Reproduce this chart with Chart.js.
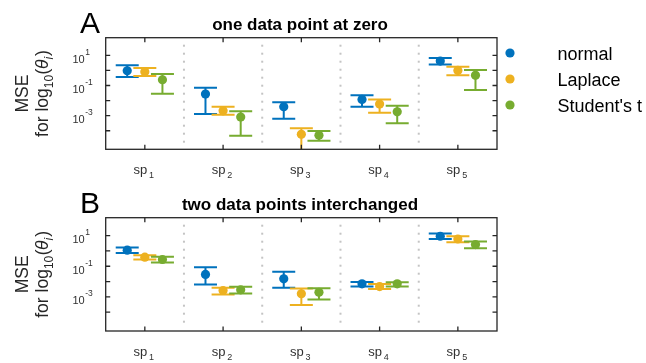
<!DOCTYPE html>
<html>
<head>
<meta charset="utf-8">
<script src="https://cdn.jsdelivr.net/npm/chart.js@4.4.1/dist/chart.umd.min.js"></script>
<style>
  html, body { margin: 0; padding: 0; background: #ffffff; }
  #wrap { position: relative; width: 646px; height: 363px; overflow: hidden; }
  .panel { position: absolute; left: 0; width: 646px; }
  #panelA { top: 0; height: 180px; }
  #panelB { top: 180px; height: 183px; }
</style>
</head>
<body>
<div id="wrap">
  <div class="panel" id="panelA"><canvas id="chartA"></canvas></div>
  <div class="panel" id="panelB"><canvas id="chartB"></canvas></div>
</div>
<script>
// ---- data ----------------------------------------------------------------
const categories  = ['sp_1', 'sp_2', 'sp_3', 'sp_4', 'sp_5'];
const seriesNames = ['normal', 'Laplace', "Student's t"];
const yTickPowers  = [-4, -3, -2, -1, 0, 1];
const yLabelPowers = [1, -1, -3];

// A: one data point at zero (mean MSE with lower / upper error limits)
const zeroNormal    = [0.95, 0.027, 0.0039, 0.012, 4.2];
const zeroNormalLo  = [0.36, 0.0013, 0.00063, 0.0039, 2.5];
const zeroNormalHi  = [2.2, 0.071, 0.0079, 0.023, 6.6];
const zeroLaplace   = [0.82, 0.0021, 0.000058, 0.0059, 1.0];
const zeroLaplaceLo = [0.43, 0.00115, 0.000001, 0.00155, 0.47];
const zeroLaplaceHi = [1.44, 0.0039, 0.000145, 0.012, 1.74];
const zeroStudent   = [0.24, 0.00081, 0.000051, 0.0018, 0.47];
const zeroStudentLo = [0.028, 0.000047, 0.000022, 0.00032, 0.05];
const zeroStudentHi = [0.575, 0.00195, 0.000095, 0.0046, 1.07];

// B: two data points interchanged
const swapNormal    = [1.12, 0.029, 0.015, 0.0071, 9.1];
const swapNormalLo  = [0.74, 0.0065, 0.0039, 0.0047, 5.9];
const swapNormalHi  = [1.66, 0.087, 0.043, 0.0095, 13.5];
const swapLaplace   = [0.39, 0.0026, 0.0016, 0.0047, 6.0];
const swapLaplaceLo = [0.275, 0.0014, 0.00029, 0.0033, 3.7];
const swapLaplaceHi = [0.525, 0.0039, 0.0035, 0.0068, 9.1];
const swapStudent   = [0.275, 0.0029, 0.002, 0.0071, 2.6];
const swapStudentLo = [0.174, 0.00166, 0.00068, 0.0047, 1.5];
const swapStudentHi = [0.41, 0.0045, 0.0037, 0.0091, 4.1];

// ---- styling ---------------------------------------------------------------
const FONT    = '"Liberation Sans", Arial, Helvetica, sans-serif';
const AXIS    = '#262626';
const TICKTXT = '#303030';
const COLORS  = ['#0072BD', '#EDB120', '#77AC30'];
const OFFSETS = [-0.225, 0, 0.225];
const CAP     = 11.5;   // half width of error bar caps, px
const Y_MIN   = Math.pow(10, -5.23);
const Y_MAX   = Math.pow(10, 2.17);

// draw a run of text pieces (for sub/superscripts); parts: {t, size, dy, italic, bold}
function drawRun(ctx, parts, x, y, align) {
  const widths = parts.map(p => {
    ctx.font = (p.italic ? 'italic ' : '') + (p.bold ? 'bold ' : '') + p.size + 'px ' + FONT;
    return ctx.measureText(p.t).width + (p.gap || 0);
  });
  const total = widths.reduce((a, b) => a + b, 0);
  let cx = align === 'center' ? x - total / 2 : (align === 'right' ? x - total : x);
  ctx.textAlign = 'left';
  ctx.textBaseline = 'alphabetic';
  parts.forEach((p, i) => {
    ctx.font = (p.italic ? 'italic ' : '') + (p.bold ? 'bold ' : '') + p.size + 'px ' + FONT;
    ctx.fillText(p.t, cx + (p.pre || 0), y + (p.dy || 0));
    cx += widths[i];
  });
}

// vertical error bars, drawn just before each series' markers
const errorBars = {
  id: 'errorBars',
  beforeDatasetDraw(chart, args) {
    const ds = chart.data.datasets[args.index];
    const { ctx, chartArea: a, scales: { x, y } } = chart;
    ctx.save();
    ctx.beginPath();
    ctx.rect(a.left, a.top, a.right - a.left, a.bottom - a.top);
    ctx.clip();
    ctx.strokeStyle = ds.borderColor;
    ctx.lineWidth = 2;
    ctx.lineCap = 'butt';
    ds.data.forEach((p, i) => {
      const px = x.getPixelForValue(p.x);
      const yl = y.getPixelForValue(ds.errLow[i]);
      const yh = y.getPixelForValue(ds.errHigh[i]);
      ctx.beginPath();
      ctx.moveTo(px, yl); ctx.lineTo(px, yh);
      ctx.moveTo(px - CAP, yl); ctx.lineTo(px + CAP, yl);
      ctx.moveTo(px - CAP, yh); ctx.lineTo(px + CAP, yh);
      ctx.stroke();
    });
    ctx.restore();
  }
};

// axes box, ticks, labels, title, panel letter and (optionally) legend
function makeFrame(cfg) {
  return {
    id: 'frame',
    beforeDatasetsDraw(chart) {
      const { ctx, chartArea: a, scales: { x } } = chart;
      ctx.save();
      ctx.fillStyle = '#c4c4c4';
      for (let k = 1; k < categories.length; k++) {
        const sx = x.getPixelForValue(k + 0.5);
        for (let yy = a.top + 8; yy < a.bottom - 4; yy += 8) {
          ctx.fillRect(sx - 1, yy - 1, 2, 2);
        }
      }
      ctx.restore();
    },
    afterDraw(chart) {
      const { ctx, chartArea: a, scales: { x, y } } = chart;
      ctx.save();
      // box
      ctx.strokeStyle = AXIS;
      ctx.lineWidth = 1.3;
      ctx.strokeRect(a.left, a.top, a.right - a.left, a.bottom - a.top);
      // ticks pointing inward
      ctx.beginPath();
      yTickPowers.forEach(p => {
        const ty = y.getPixelForValue(Math.pow(10, p));
        ctx.moveTo(a.left, ty); ctx.lineTo(a.left + 4.5, ty);
        ctx.moveTo(a.right, ty); ctx.lineTo(a.right - 4.5, ty);
      });
      categories.forEach((c, i) => {
        const tx = x.getPixelForValue(i + 1);
        ctx.moveTo(tx, a.bottom); ctx.lineTo(tx, a.bottom - 4.5);
        ctx.moveTo(tx, a.top); ctx.lineTo(tx, a.top + 4.5);
      });
      ctx.stroke();

      // y tick labels 10^p
      ctx.fillStyle = TICKTXT;
      yLabelPowers.forEach(p => {
        const ty = y.getPixelForValue(Math.pow(10, p));
        drawRun(ctx, [
          { t: '10', size: 11 },
          { t: String(p), size: 8.5, dy: -8, pre: 0.5 }
        ], 72.5, ty + 7.5, 'left');
      });

      // x tick labels sp_k
      categories.forEach((c, i) => {
        const tx = x.getPixelForValue(i + 1);
        const [base, sub] = c.split('_');
        drawRun(ctx, [
          { t: base, size: 13, gap: 1.8 },
          { t: sub, size: 9, dy: 4.5 }
        ], tx - 1, a.bottom + 24.5, 'center');
      });

      // y axis label, two rotated lines
      const cy = (a.top + a.bottom) / 2;
      ctx.fillStyle = AXIS;
      ctx.save();
      ctx.translate(28.3, cy);
      ctx.rotate(-Math.PI / 2);
      drawRun(ctx, [{ t: 'MSE', size: 17.5 }], 0, 0, 'center');
      ctx.restore();
      ctx.save();
      ctx.translate(48.3, cy);
      ctx.rotate(-Math.PI / 2);
      drawRun(ctx, [
        { t: 'for log', size: 17.5 },
        { t: '10', size: 12, dy: 5 },
        { t: '(', size: 17.5, pre: 0.5 },
        { t: 'θ', size: 17.5, italic: true },
        { t: 'i', size: 12, dy: 5, italic: true, gap: 1 },
        { t: ')', size: 17.5 }
      ], 0, 0, 'center');
      ctx.restore();

      // title
      ctx.fillStyle = '#000000';
      drawRun(ctx, [{ t: cfg.title, size: 17, bold: true }], 300, a.top - 8.2, 'center');
      // panel letter
      drawRun(ctx, [{ t: cfg.letter, size: 30 }], 80, a.top - 4.4, 'left');

      // legend
      if (cfg.legend) {
        const ly = [53, 79, 105];
        chart.data.datasets.forEach((ds, i) => {
          ctx.fillStyle = ds.backgroundColor;
          ctx.beginPath();
          ctx.arc(510, ly[i], 4.6, 0, Math.PI * 2);
          ctx.fill();
          ctx.fillStyle = '#000000';
          drawRun(ctx, [{ t: ds.label, size: 18 }], 557.5, ly[i] + 6.5, 'left');
        });
      }
      ctx.restore();
    }
  };
}

function makeDatasets(means, lows, highs) {
  return seriesNames.map((name, s) => ({
    label: name,
    data: means[s].map((v, i) => ({ x: i + 1 + OFFSETS[s], y: v })),
    errLow: lows[s],
    errHigh: highs[s],
    backgroundColor: COLORS[s],
    borderColor: COLORS[s],
    pointRadius: 4.6,
    pointHoverRadius: 4.6,
    pointBorderWidth: 0,
    showLine: false,
    order: 3 - s
  }));
}

function makeChart(canvasId, datasets, frameCfg, padBottom) {
  return new Chart(document.getElementById(canvasId), {
    type: 'scatter',
    data: { datasets },
    options: {
      responsive: true,
      maintainAspectRatio: false,
      devicePixelRatio: 1,
      animation: false,
      events: [],
      layout: { padding: { left: 105.7, right: 149, top: 37.7, bottom: padBottom } },
      plugins: { legend: { display: false }, title: { display: false }, tooltip: { enabled: false } },
      scales: {
        x: { type: 'linear', min: 0.5, max: 5.5, display: false },
        y: { type: 'logarithmic', min: Y_MIN, max: Y_MAX, bounds: 'data', display: false }
      }
    },
    plugins: [errorBars, makeFrame(frameCfg)]
  });
}

makeChart('chartA',
  makeDatasets([zeroNormal, zeroLaplace, zeroStudent],
               [zeroNormalLo, zeroLaplaceLo, zeroStudentLo],
               [zeroNormalHi, zeroLaplaceHi, zeroStudentHi]),
  { letter: 'A', title: 'one data point at zero', legend: true }, 30.7);

makeChart('chartB',
  makeDatasets([swapNormal, swapLaplace, swapStudent],
               [swapNormalLo, swapLaplaceLo, swapStudentLo],
               [swapNormalHi, swapLaplaceHi, swapStudentHi]),
  { letter: 'B', title: 'two data points interchanged', legend: false }, 32);
</script>
</body>
</html>
